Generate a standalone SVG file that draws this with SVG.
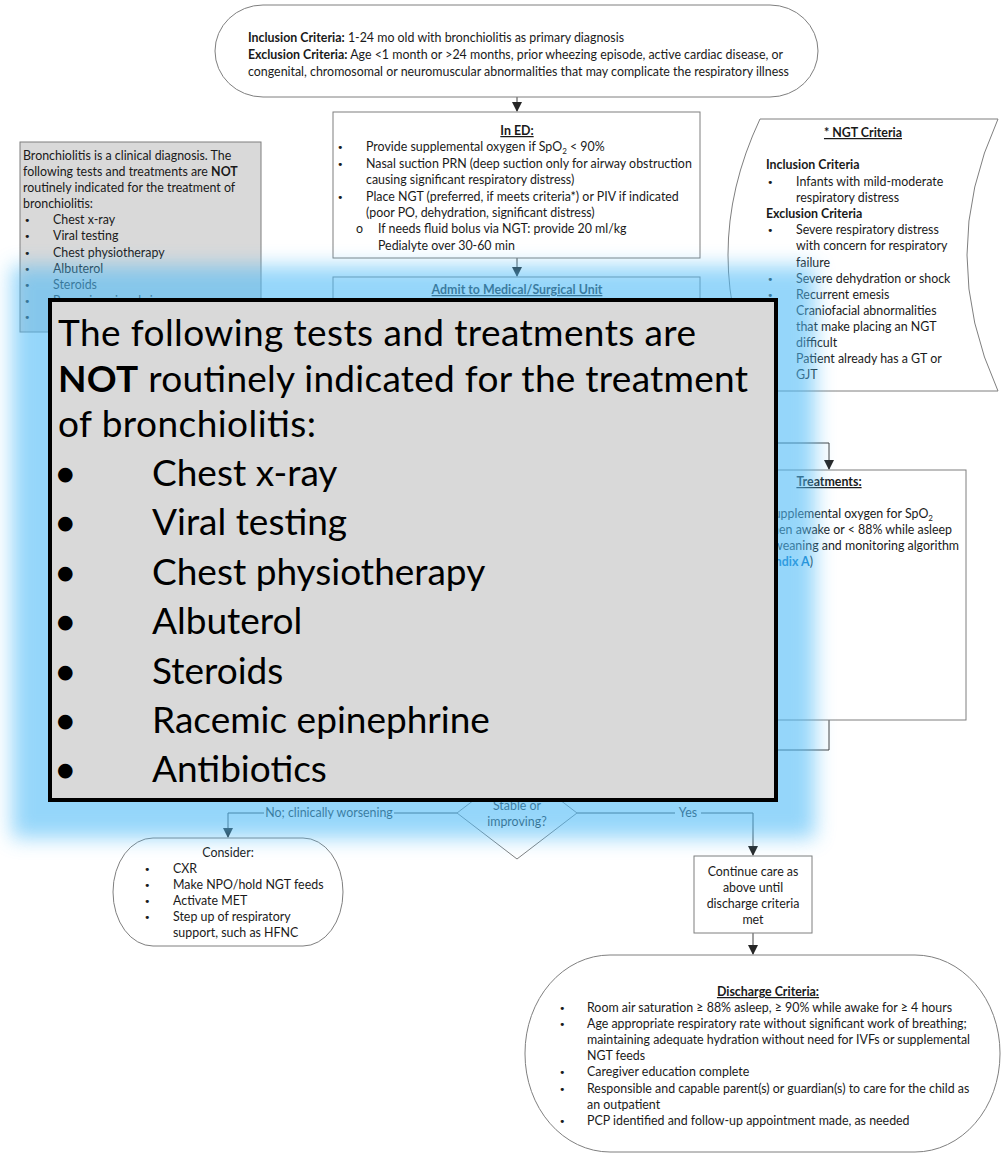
<svg xmlns="http://www.w3.org/2000/svg" width="1001" height="1154" viewBox="0 0 1001 1154">
<style>
.t{font-family:Lato,"Liberation Sans",sans-serif;font-size:12.4px;fill:#1a1a1a}
.c{text-anchor:middle}
.b{font-weight:bold}
.u{text-decoration:underline}
.bl{font-family:"DejaVu Sans",sans-serif;font-size:11px;fill:#1a1a1a}
.box{fill:#fff;stroke:#7f7f7f;stroke-width:1}
.ln{fill:none;stroke:#404040;stroke-width:1}
.big{font-family:Lato,"Liberation Sans",sans-serif;font-size:37px;fill:#000}
.bigb{font-family:"DejaVu Sans",sans-serif;font-size:19px;fill:#000}
</style>
<defs>
<marker id="ah" markerWidth="10" markerHeight="10" refX="9" refY="5" orient="auto" markerUnits="userSpaceOnUse">
<path d="M0,0 L10,5 L0,10 Z" fill="#262626"/>
</marker>
<filter id="blur" filterUnits="userSpaceOnUse" x="-60" y="200" width="960" height="720">
<feGaussianBlur stdDeviation="10"/>
</filter>
</defs>
<rect width="1001" height="1154" fill="#fff"/>

<g id="connectors">
<path class="ln" d="M517,97 V111" marker-end="url(#ah)"/>
<path class="ln" d="M517,258 V276" marker-end="url(#ah)"/>
<path class="ln" d="M700,443 H829 V469" marker-end="url(#ah)"/>
<path class="ln" d="M829,720 V750 H517 V766"/>
<path class="ln" d="M457,813 H394 M264,813 H228 V837" marker-end="url(#ah)"/>
<path class="ln" d="M577,813 H675 M701,813 H753 V855" marker-end="url(#ah)"/>
<path class="ln" d="M753,933 V954" marker-end="url(#ah)"/>
<text class="t c" x="329" y="817">No; clinically worsening</text>
<text class="t c" x="688" y="817">Yes</text>
</g>

<g id="start">
<rect class="box" x="215" y="5" width="603" height="92" rx="48" ry="46"/>
<text class="t" x="248" y="42"><tspan class="b">Inclusion Criteria:</tspan>  1-24 mo old with bronchiolitis as primary diagnosis</text>
<text class="t" x="248" y="59"><tspan class="b">Exclusion Criteria:</tspan> Age &lt;1 month or &gt;24 months, prior wheezing episode, active cardiac disease, or</text>
<text class="t" x="248" y="76">congenital, chromosomal or neuromuscular abnormalities that may complicate the respiratory illness</text>
</g>

<g id="note-left">
<rect x="20" y="142" width="241" height="190" fill="#d9d9d9" stroke="#7f7f7f"/>
<text class="t" x="23" y="160">Bronchiolitis is a clinical diagnosis. The</text>
<text class="t" x="23" y="176">following tests and treatments are <tspan class="b">NOT</tspan></text>
<text class="t" x="23" y="192">routinely indicated for the treatment of</text>
<text class="t" x="23" y="208">bronchiolitis:</text>
<text class="bl" x="24" y="224">•</text><text class="t" x="53" y="224">Chest x-ray</text>
<text class="bl" x="24" y="240">•</text><text class="t" x="53" y="240">Viral testing</text>
<text class="bl" x="24" y="257">•</text><text class="t" x="53" y="257">Chest physiotherapy</text>
<text class="bl" x="24" y="273">•</text><text class="t" x="53" y="273">Albuterol</text>
<text class="bl" x="24" y="289">•</text><text class="t" x="53" y="289">Steroids</text>
<text class="bl" x="24" y="305">•</text><text class="t" x="53" y="305">Racemic epinephrine</text>
<text class="bl" x="24" y="321">•</text><text class="t" x="53" y="321">Antibiotics</text>
</g>

<g id="ed">
<rect class="box" x="333" y="112" width="367" height="146"/>
<text class="t c b u" x="517" y="135">In ED:</text>
<text class="bl" x="337" y="151">•</text><text class="t" x="366" y="151">Provide supplemental oxygen if SpO<tspan font-size="8" dy="3">2</tspan><tspan dy="-3"> &lt; 90%</tspan></text>
<text class="bl" x="337" y="168">•</text><text class="t" x="366" y="168">Nasal suction PRN (deep suction only for airway obstruction</text>
<text class="t" x="366" y="184">causing significant respiratory distress)</text>
<text class="bl" x="337" y="201">•</text><text class="t" x="366" y="201">Place NGT (preferred, if meets criteria*) or PIV if indicated</text>
<text class="t" x="366" y="217">(poor PO, dehydration, significant distress)</text>
<text class="t" x="356" y="233">o</text><text class="t" x="378" y="233">If needs fluid bolus via NGT: provide 20 ml/kg</text>
<text class="t" x="378" y="250">Pedialyte over 30-60 min</text>
</g>

<g id="admit">
<rect class="box" x="333" y="277" width="367" height="44"/>
<text class="t c b u" x="517" y="294">Admit to Medical/Surgical Unit</text>
</g>

<g id="ngt">
<path class="box" d="M760,119 L998,119 Q936,255 998,391 L760,391 Q696,255 760,119 Z"/>
<text class="t c b u" x="863" y="137">* NGT Criteria</text>
<text class="t b" x="766" y="169">Inclusion Criteria</text>
<text class="bl" x="767" y="186">•</text><text class="t" x="796" y="186">Infants with mild-moderate</text>
<text class="t" x="796" y="202">respiratory distress</text>
<text class="t b" x="766" y="218">Exclusion Criteria</text>
<text class="bl" x="767" y="234">•</text><text class="t" x="796" y="234">Severe respiratory distress</text>
<text class="t" x="796" y="250">with concern for respiratory</text>
<text class="t" x="796" y="267">failure</text>
<text class="bl" x="767" y="283">•</text><text class="t" x="796" y="283">Severe dehydration or shock</text>
<text class="bl" x="767" y="299">•</text><text class="t" x="796" y="299">Recurrent emesis</text>
<text class="bl" x="767" y="315">•</text><text class="t" x="796" y="315">Craniofacial abnormalities</text>
<text class="t" x="796" y="331">that make placing an NGT</text>
<text class="t" x="796" y="347">difficult</text>
<text class="bl" x="767" y="363">•</text><text class="t" x="796" y="363">Patient already has a GT or</text>
<text class="t" x="796" y="379">GJT</text>
</g>

<g id="treatments">
<rect class="box" x="692" y="470" width="274" height="250"/>
<text class="t c b u" x="829" y="486">Treatments:</text>
<text class="t" x="933" y="518" text-anchor="end">Provide supplemental oxygen for SpO<tspan font-size="8" dy="3">2</tspan></text>
<text class="t" x="952" y="534" text-anchor="end">&lt; 90% when awake or &lt; 88% while asleep</text>
<text class="t" x="959" y="550" text-anchor="end">(see weaning and monitoring algorithm</text>
<text class="t" x="813" y="566" text-anchor="end">in <tspan class="b" fill="#0070c0">Appendix A</tspan>)</text>
</g>

<g id="decision">
<path class="box" d="M517,767 L577,813 L517,859 L457,813 Z"/>
<text class="t c" x="517" y="810">Stable or</text>
<text class="t c" x="517" y="826">improving?</text>
</g>

<g id="consider">
<rect class="box" x="113" y="838" width="230" height="108" rx="40" ry="54"/>
<text class="t c" x="228" y="857">Consider:</text>
<text class="bl" x="144" y="873">•</text><text class="t" x="173" y="873">CXR</text>
<text class="bl" x="144" y="889">•</text><text class="t" x="173" y="889">Make NPO/hold NGT feeds</text>
<text class="bl" x="144" y="905">•</text><text class="t" x="173" y="905">Activate MET</text>
<text class="bl" x="144" y="921">•</text><text class="t" x="173" y="921">Step up of respiratory</text>
<text class="t" x="173" y="937">support, such as HFNC</text>
</g>

<g id="continue">
<rect class="box" x="694" y="856" width="118" height="77"/>
<text class="t c" x="753" y="876">Continue care as</text>
<text class="t c" x="753" y="892">above until</text>
<text class="t c" x="753" y="908">discharge criteria</text>
<text class="t c" x="753" y="924">met</text>
</g>

<g id="discharge">
<rect class="box" x="525" y="955" width="475" height="197" rx="85" ry="98"/>
<text class="t c b u" x="768" y="996">Discharge Criteria:</text>
<text class="bl" x="559" y="1012">•</text><text class="t" x="587" y="1012">Room air saturation ≥ 88% asleep, ≥ 90% while awake for ≥ 4 hours</text>
<text class="bl" x="559" y="1028">•</text><text class="t" x="587" y="1028">Age appropriate respiratory rate without significant work of breathing;</text>
<text class="t" x="587" y="1044">maintaining adequate hydration without need for IVFs or supplemental</text>
<text class="t" x="587" y="1060">NGT feeds</text>
<text class="bl" x="559" y="1076">•</text><text class="t" x="587" y="1076">Caregiver education complete</text>
<text class="bl" x="559" y="1093">•</text><text class="t" x="587" y="1093">Responsible and capable parent(s) or guardian(s) to care for the child as</text>
<text class="t" x="587" y="1109">an outpatient</text>
<text class="bl" x="559" y="1125">•</text><text class="t" x="587" y="1125">PCP identified and follow-up appointment made, as needed</text>
</g>

<g id="glow">
<rect x="12" y="266" width="803" height="572" fill="#50bbf7" opacity="0.6" filter="url(#blur)"/>
</g>

<g id="zoom-popup">
<rect x="50" y="300" width="726" height="500" fill="#d9d9d9" stroke="#000" stroke-width="4"/>
<text class="big" x="58" y="346" textLength="638" lengthAdjust="spacing">The following tests and treatments are</text>
<text class="big" x="58" y="392" textLength="690" lengthAdjust="spacing"><tspan font-weight="bold">NOT</tspan> routinely indicated for the treatment</text>
<text class="big" x="58" y="437" textLength="258" lengthAdjust="spacing">of bronchiolitis:</text>
<text class="bigb" x="57" y="480">●</text><text class="big" x="152" y="486">Chest x-ray</text>
<text class="bigb" x="57" y="529">●</text><text class="big" x="152" y="535">Viral testing</text>
<text class="bigb" x="57" y="579">●</text><text class="big" x="152" y="585">Chest physiotherapy</text>
<text class="bigb" x="57" y="628">●</text><text class="big" x="152" y="634">Albuterol</text>
<text class="bigb" x="57" y="678">●</text><text class="big" x="152" y="684">Steroids</text>
<text class="bigb" x="57" y="727">●</text><text class="big" x="152" y="733">Racemic epinephrine</text>
<text class="bigb" x="57" y="776">●</text><text class="big" x="152" y="782">Antibiotics</text>
</g>
</svg>
